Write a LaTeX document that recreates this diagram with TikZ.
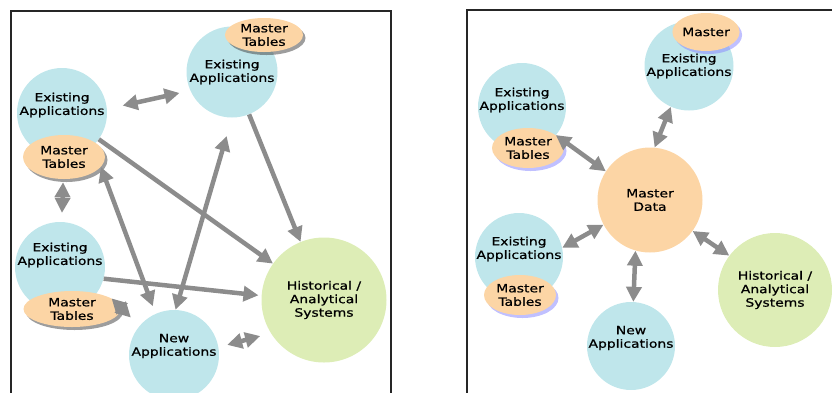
\documentclass[tikz,border=0pt]{standalone}
\usepackage{fontspec}
\setmainfont{DejaVu Sans}[FakeStretch=1.22, FakeBold=0.8]
\usetikzlibrary{shapes.geometric, arrows.meta, shadows, positioning}
\definecolor{appblue}{HTML}{BFE6EB}
\definecolor{tablepeach}{HTML}{FCD5A5}
\definecolor{histgreen}{HTML}{DDEDB6}
\def\linkcolor{black!45}
\def\tip{Triangle[length=15pt, width=15pt]}

\begin{document}
\begin{tikzpicture}[x=1pt, y=-1pt, font=\fontsize{11.4}{13.5}\selectfont,
  appnode/.style={circle, fill=appblue, inner sep=0pt, align=center, minimum size=#1},
  appnode/.default=90pt,
  histnode/.style={circle, fill=histgreen, inner sep=0pt, align=center, minimum size=#1},
  txt/.style={align=center, inner sep=0pt},
  tablenode/.style={ellipse, fill=tablepeach, inner sep=0pt, align=center,
    drop shadow={shadow xshift=2.5pt, shadow yshift=-3pt, fill=#1, opacity=0.55}},
  tablenode/.default=black!70,
  link/.style={\linkcolor, line width=4.5pt, -{\tip}},
  both/.style={\linkcolor, line width=4.5pt, {\tip}-{\tip}},
  frame/.style={black!85, line width=1.3pt}]

  \useasboundingbox (0,0) rectangle (832,392);

  % left panel: point to point
  \draw[frame] (11,400) -- (11,11) -- (391,11) -- (391,400);

  \node[appnode] (ea1) at (62,113) {};
  \node[txt] (ea1-t) at ([yshift=8pt]ea1.center) {Existing\\Applications};
  \node[appnode=91pt] (ea2) at (232,72) {Existing\\Applications};
  \node[appnode] (ea3) at (60,267) {};
  \node[txt] (ea3-t) at ([yshift=12pt]ea3.center) {Existing\\Applications};
  \node[appnode] (newapp) at (174,355) {};
  \node[txt] (newapp-t) at ([yshift=9pt]newapp.center) {New\\Applications};
  \node[histnode=125pt] (hist) at (324,300) {Historical /\\Analytical\\Systems};

  \node[tablenode, minimum width=82pt, minimum height=44pt] (mt1) at (64,157) {Master\\Tables};
  \node[tablenode, minimum width=78pt, minimum height=34pt] (mt2) at (264,35) {Master\\Tables};
  \node[tablenode, minimum width=97pt, minimum height=36pt] (mt3) at (72,309) {Master\\Tables};

  \draw[both, shorten <=16pt, shorten >=11pt] (ea1.5) -- (ea2.204);
  \draw[both, shorten <=3pt, shorten >=9pt] (mt1) -- (ea3);
  \draw[link] (ea1) -- (hist);
  \draw[link] (ea2) -- (hist);
  \draw[both, shorten >=8pt] (mt1.-15) -- (newapp.114);
  \draw[both, shorten >=19pt] (newapp.88) -- (ea2.-90);
  \draw[link, shorten >=3pt] (ea3.-15) -- (hist.176);
  \draw[both, shorten >=12pt] (mt3.15) -- (newapp.140);
  \draw[both, shorten <=9pt, shorten >=11pt] (newapp.10) -- (hist.212);

  % right panel: hub
  \draw[frame] (467,400) -- (467,10) -- (840,10);

  \node[appnode=88pt] (eaL1) at (522,107) {};
  \node[txt] (eaL1-t) at ([yshift=7pt]eaL1.center) {Existing\\Applications};
  \node[appnode=89pt] (eaT) at (689,66) {Existing\\Applications};
  \node[appnode=88pt] (eaL2) at (519,257) {};
  \node[txt] (eaL2-t) at ([yshift=8pt]eaL2.center) {Existing\\Applications};
  \node[appnode=88pt] (naR) at (631,346) {};
  \node[txt] (naR-t) at ([yshift=8pt]naR.center) {New\\Applications};
  \node[histnode=114pt] (histR) at (775,290) {Historical /\\Analytical\\Systems};
  \node[circle, fill=tablepeach, minimum size=105pt, inner sep=0pt, align=center] (md) at (650,200) {Master\\Data};

  \node[tablenode=blue!45, minimum width=72pt, minimum height=40pt] (mtA) at (528,148) {Master\\Tables};
  \node[tablenode=blue!45, minimum width=50pt, minimum height=38pt] (mtT) at (706,32) {Master};
  \node[tablenode=blue!45, minimum width=72pt, minimum height=40pt] (mtB) at (520,295) {Master\\Tables};

  \draw[both] (mtA.25) -- (md.147);
  \draw[both] (eaT.246) -- (md.85);
  \draw[both] (eaL2.12) -- (md.208);
  \draw[both] (naR.87) -- (md.254);
  \draw[both] (histR.143) -- (md.-36);
\end{tikzpicture}
\end{document}
